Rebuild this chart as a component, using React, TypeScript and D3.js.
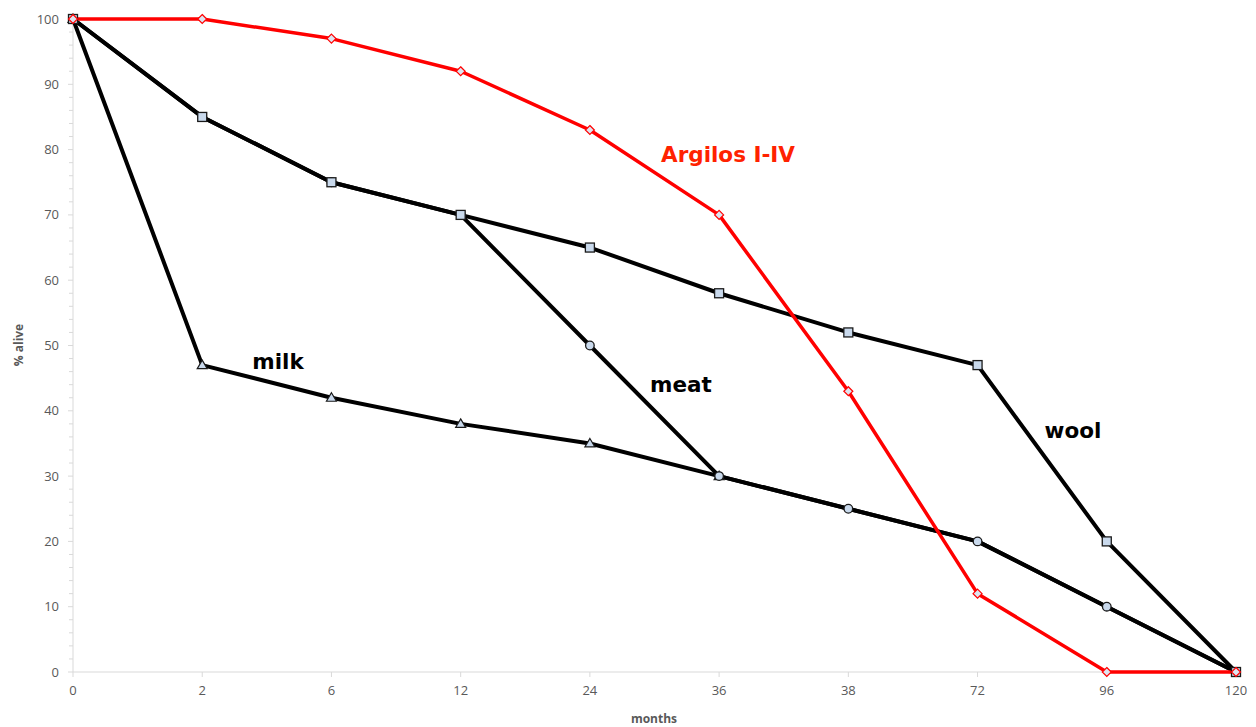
import React from "react";
import * as d3 from "d3";

const months = ["0", "2", "6", "12", "24", "36", "38", "72", "96", "120"];
const argilos = [100, 100, 97, 92, 83, 70, 43, 12, 0, 0];
const wool = [100, 85, 75, 70, 65, 58, 52, 47, 20, 0];
const meat = [100, 85, 75, 70, 50, 30, 25, 20, 10, 0];
const milk = [100, 47, 42, 38, 35, 30, 25, 20, 10, 0];
const yTicks = [0, 10, 20, 30, 40, 50, 60, 70, 80, 90, 100];

const W = 1256, H = 727;
const x = d3.scalePoint<string>().domain(months).range([73, 1236]);
const y = d3.scaleLinear().domain([0, 100]).range([672, 19]);
const line = d3.line<number>().x((_, i) => x(months[i]) as number).y((d) => y(d));

const FONT = "'Open Sans', 'Liberation Sans', sans-serif";
const LFONT = "'DejaVu Sans', Verdana, sans-serif";
const MFILL = "#c9d9ec";

function Marker({ kind, cx, cy }: { kind: string; cx: number; cy: number }) {
  if (kind === "square")
    return <rect x={cx - 4.5} y={cy - 4.5} width={9} height={9} fill={MFILL} stroke="#1a1a1a" strokeWidth={1.3} />;
  if (kind === "circle")
    return <circle cx={cx} cy={cy} r={4.3} fill={MFILL} stroke="#1a1a1a" strokeWidth={1.3} />;
  if (kind === "triangle")
    return <path d={`M${cx},${cy - 5}L${cx + 5},${cy + 3.5}L${cx - 5},${cy + 3.5}Z`} fill={MFILL} stroke="#1a1a1a" strokeWidth={1.2} />;
  return <path d={`M${cx},${cy - 4.5}L${cx + 4.5},${cy}L${cx},${cy + 4.5}L${cx - 4.5},${cy}Z`} fill="#dde4f0" stroke="#ff0000" strokeWidth={1.2} />;
}

const series = [
  { data: milk, color: "#000", kind: "triangle", upto: 6, w: 4 },
  { data: meat, color: "#000", kind: "circle", upto: 10, w: 4 },
  { data: wool, color: "#000", kind: "square", upto: 10, w: 4 },
  { data: argilos, color: "#ff0000", kind: "diamond", upto: 10, w: 3.5 },
];

export default function App() {
  const minor = d3.range(0, 101, 2);
  return (
    <svg width={W} height={H} style={{ position: "absolute", left: 0, top: 0 }}>
      <rect width={W} height={H} fill="#fff" />
      {/* y axis */}
      <line x1={73} x2={73} y1={y(100)} y2={y(0)} stroke="#d9d9d9" strokeWidth={1} />
      {minor.map((v) => (
        <line key={"m" + v} x1={v % 10 === 0 ? 68 : 69} x2={73} y1={y(v)} y2={y(v)} stroke="#d9d9d9" strokeWidth={1} />
      ))}
      {yTicks.map((v) => (
        <text key={"y" + v} x={59} y={y(v)} dy="0.35em" textAnchor="end" fontFamily={FONT} fontSize={13} fill="#595959">
          {v}
        </text>
      ))}
      {/* x axis */}
      <line x1={73} x2={1236} y1={y(0)} y2={y(0)} stroke="#d9d9d9" strokeWidth={1} />
      {months.map((m) => (
        <g key={"x" + m}>
          <line x1={x(m)} x2={x(m)} y1={y(0)} y2={y(0) + 5} stroke="#d9d9d9" />
          <text x={x(m)} y={695} textAnchor="middle" fontFamily={FONT} fontSize={13} fill="#595959">
            {m}
          </text>
        </g>
      ))}
      <text x={654} y={723} textAnchor="middle" fontFamily={FONT} fontSize={12} fontWeight="bold" fill="#595959">
        months
      </text>
      <text transform={`translate(23,345) rotate(-90)`} textAnchor="middle" fontFamily={FONT} fontSize={12} fontWeight="bold" fill="#595959">
        % alive
      </text>
      {/* lines */}
      {series.map((s, i) => (
        <path key={"l" + i} d={line(s.data) as string} fill="none" stroke={s.color} strokeWidth={s.w} strokeLinejoin="round" />
      ))}
      {series.map((s, i) =>
        s.data.slice(0, s.upto).map((v, j) => (
          <Marker key={`mk${i}-${j}`} kind={s.kind} cx={x(months[j]) as number} cy={y(v)} />
        ))
      )}
      {/* labels */}
      <text x={278} y={369} textAnchor="middle" fontFamily={LFONT} fontSize={21.5} fontWeight="bold" fill="#000">milk</text>
      <text x={681} y={392} textAnchor="middle" fontFamily={LFONT} fontSize={21.5} fontWeight="bold" fill="#000">meat</text>
      <text x={1073} y={438} textAnchor="middle" fontFamily={LFONT} fontSize={21.5} fontWeight="bold" fill="#000">wool</text>
      <text x={728} y={162} textAnchor="middle" fontFamily={LFONT} fontSize={21.5} fontWeight="bold" fill="#ff2200">Argilos I-IV</text>
    </svg>
  );
}
